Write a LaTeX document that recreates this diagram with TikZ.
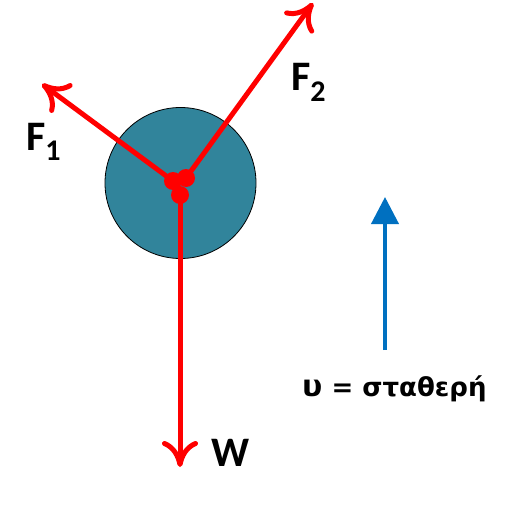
\documentclass[tikz,border=0pt]{standalone}
\usepackage{fontspec}
\setmainfont{Carlito}
\newfontfamily\greekfont{DejaVu Sans}
\usetikzlibrary{arrows.meta}
\definecolor{ballteal}{RGB}{49,132,155}
\definecolor{velblue}{RGB}{0,112,192}
\tikzset{
  force/.style={draw=red, line width=5pt, line cap=round,
    -{Computer Modern Rightarrow[length=26pt,width=36pt,line width=5pt]}},
  dotpt/.style={circle, fill=red, inner sep=0pt, minimum size=18pt},
  lbl/.style={font=\fontsize{42}{42}\selectfont\bfseries, inner sep=0pt},
}
\begin{document}
\begin{tikzpicture}[x=1pt,y=-1pt]
\useasboundingbox (0,0) rectangle (504,506);
% ball
\node[circle, fill=ballteal, draw=black, line width=0.8pt, minimum size=151pt, inner sep=0pt] (ball) at (180.5,183) {};
% tips
\coordinate (t1) at (42,84);
\coordinate (t2) at (313,3);
\coordinate (tw) at (180,467);
% application points
\coordinate (p1) at (173,181);
\coordinate (p2) at (186,178);
\coordinate (pw) at (180,195);
\draw[force] (p1) -- (t1);
\draw[force] (p2) -- (t2);
\draw[force] (pw) -- (tw);
\node[dotpt] (d1) at (p1) {};
\node[dotpt] (d2) at (p2) {};
\node[dotpt] (d3) at (pw) {};
% labels
\node[lbl, anchor=base west] (f1) at (26,150) {F\textsubscript{\fontsize{30}{30}\selectfont 1}};
\node[lbl, anchor=base west] (f2) at (291,90) {F\textsubscript{\fontsize{30}{30}\selectfont 2}};
\node[lbl, anchor=base west] (w) at (211,466) {W};
% velocity
\coordinate (vb) at (385,350);
\coordinate (vt) at (385,197);
\draw[draw=velblue, line width=4pt, -{Triangle[length=27pt,width=27pt]}] (vb) -- (vt);
\node[anchor=base west, inner sep=0pt, font=\greekfont\bfseries\fontsize{26}{26}\selectfont] (v) at (302,396) {{\fontsize{30}{30}\selectfont υ} = σταθερή};
\end{tikzpicture}
\end{document}
